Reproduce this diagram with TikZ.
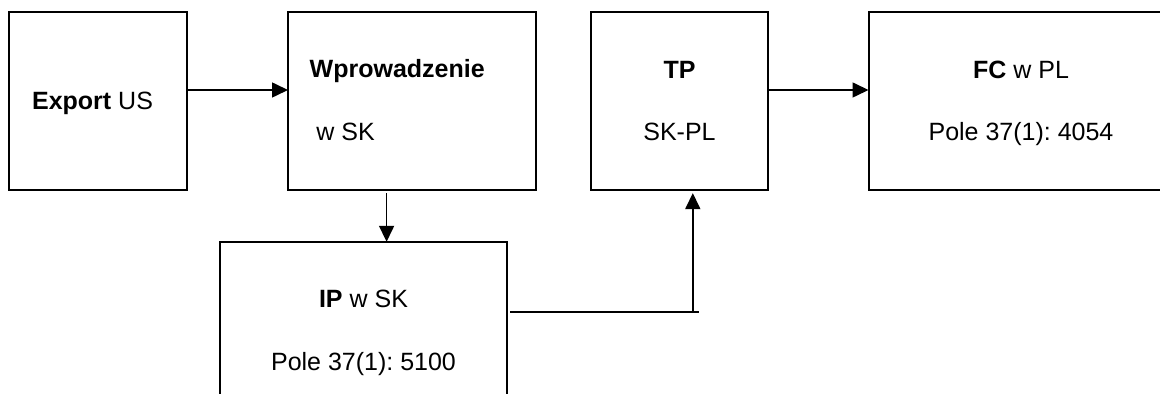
\documentclass[tikz,border=0pt]{standalone}
\usepackage{fontspec}
\setmainfont{Liberation Sans}
\usetikzlibrary{arrows.meta}
\frenchspacing

\begin{document}
\begin{tikzpicture}[x = 0.5pt, y = -0.5pt,
        box/.style = {draw, line width = 1pt, inner sep = 0pt, outer sep = 0pt, minimum height = 89.2pt},
        txt/.style = {inner sep = 0pt, font = \fontsize{12.5}{15}\selectfont},
        arr/.style = {line width = 0.8pt, -{Triangle[length = 8pt, width = 7.5pt]}}]
        \path[use as bounding box, clip] (0, 0) rectangle (1160, 394);
        \node[box, minimum width = 88.8pt] (export) at (98, 100.9) {};
        \node[box, minimum width = 124.2pt] (wprow) at (412.2, 100.9) {};
        \node[box, minimum width = 88.5pt] (tp) at (679.5, 100.9) {};
        \node[box, minimum width = 152.5pt] (fc) at (1021, 100.9) {};
        \node[box, minimum width = 143.5pt] (ip) at (363.5, 331) {};
        \node[txt, anchor = base west] (exportlbl) at (31.7, 109.3) {\textbf{Export} US};
        \node[txt, anchor = base west] (wprowlbl) at (309.3, 77.7) {\textbf{Wprowadzenie}};
        \node[txt, anchor = base west] (wprowsub) at (316, 141) {w SK};
        \node[txt, anchor = base] (tplbl) at (679.5, 78.3) {\textbf{TP}};
        \node[txt, anchor = base] (tpsub) at (679.5, 140.7) {SK-PL};
        \node[txt, anchor = base] (fclbl) at (1021, 78.3) {\textbf{FC} w PL};
        \node[txt, anchor = base] (fcsub) at (1021, 140.7) {Pole 37(1): 4054};
        \node[txt, anchor = base] (iplbl) at (363.5, 307.3) {\textbf{IP} w SK};
        \node[txt, anchor = base] (ipsub) at (363.5, 371) {Pole 37(1): 5100};
        \coordinate (ipend) at (699, 312.3);
        \coordinate (tpfoot) at (692.8, 312.3);
        \draw[arr] ([yshift = 5.45pt]export.east) -- ([yshift = 5.45pt]wprow.west);
        \draw[arr] ([xshift = -12.8pt, yshift = -1.5pt]wprow.south) -- ([xshift = -12.8pt]wprow.south |- ip.north);
        \draw[arr] ([yshift = 5.45pt]tp.east) -- ([yshift = 5.45pt]fc.west);
        \draw[line width = 0.8pt] ([xshift = 1.5pt, yshift = 9.35pt]ip.east) -- (ipend);
        \draw[arr] (tpfoot) -- ([xshift = 6.65pt, yshift = -1.5pt]tp.south);
    \end{tikzpicture}
\end{document}
